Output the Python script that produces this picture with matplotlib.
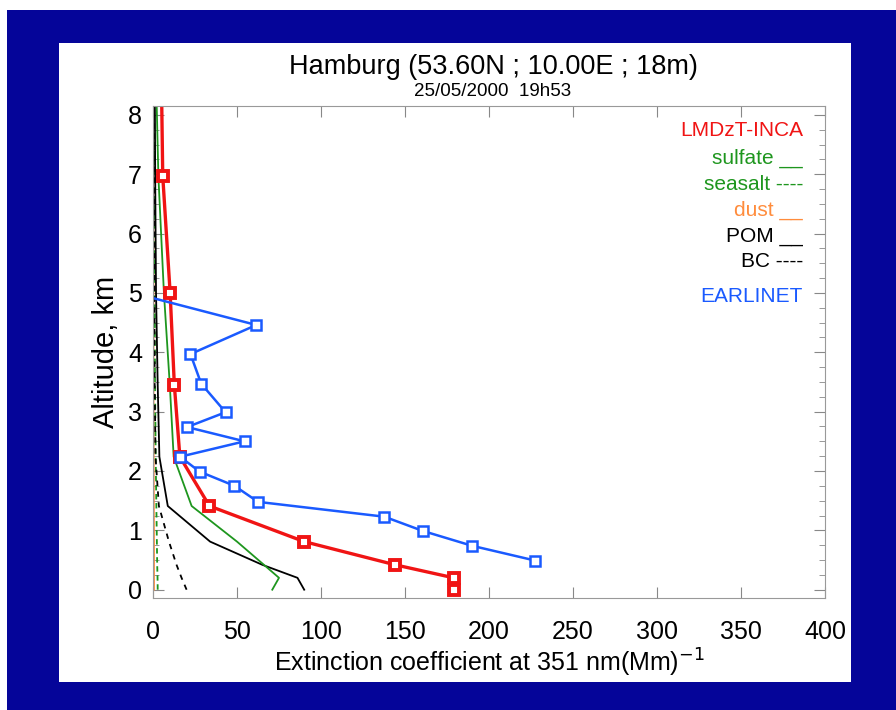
import numpy as np
import matplotlib
matplotlib.use('Agg')
import matplotlib.pyplot as plt
from matplotlib.ticker import MultipleLocator

plt.rcParams['font.family'] = ['Liberation Sans', 'DejaVu Sans']

# model levels (km) and LMDzT-INCA extinction (Mm-1)
alt_model = [0.0, 0.2, 0.42, 0.81, 1.41, 2.24, 3.45, 5.0, 6.97, 9.0]
ext_total = [179, 179, 144, 90, 33.6, 16, 12.7, 10.2, 5.8, 4.8]
ext_sulfate = [71, 75, 66, 50, 23, 12.3, 10, 6.5, 3.2, 1.5]
ext_seasalt = [2.8, 2.7, 2.5, 2.3, 2.0, 1.6, 1.2, 1.0, 0.8, 0.6]
ext_dust = [0.6, 0.6, 0.6, 0.6, 0.5, 0.4, 0.3, 0.3, 0.2, 0.2]
ext_pom = [90, 86, 65, 34, 8.8, 3.8, 2.8, 1.8, 1.3, 1.0]
ext_bc = [20, 17, 14, 9.5, 3.5, 1.5, 1.0, 0.8, 0.6, 0.5]

# EARLINET lidar profile
alt_lidar = [4.95, 4.46, 3.97, 3.47, 2.99, 2.74, 2.50, 2.24, 1.99, 1.75, 1.48, 1.23, 0.99, 0.74, 0.49]
ext_lidar = [-5, 61.5, 22.3, 28.7, 43.2, 20.3, 54.5, 16.1, 27.7, 48.5, 62.5, 137.7, 160.6, 189.9, 227.6]

red = '#f01414'
green = '#1e961e'
orange = '#ff8c3c'
blue = '#1a5aff'
navy = '#050599'

fig = plt.figure(figsize=(8.96, 7.10), dpi=100)
fig.patch.set_facecolor('white')
# dark blue frame with white panel
fig.patches.append(plt.Rectangle((7/896, 0), 1, 1 - 10/710, transform=fig.transFigure,
                                 facecolor=navy, edgecolor='none', zorder=-2))
fig.patches.append(plt.Rectangle((59/896, 1 - 682/710), (851-59)/896, (682-43)/710,
                                 transform=fig.transFigure, facecolor='white',
                                 edgecolor='none', zorder=-1))

ax = fig.add_axes([153/896, 1 - 598/710, (825-153)/896, (598-106)/710])
ax.plot(ext_dust, alt_model, color=orange, lw=1.3)
ax.plot(ext_seasalt, alt_model, color=green, lw=1.3, ls=(0, (3, 2)))
ax.plot(ext_bc, alt_model, color='black', lw=1.3, ls=(0, (3, 3)))
ax.plot(ext_pom, alt_model, color='black', lw=1.3)
ax.plot(ext_sulfate, alt_model, color=green, lw=1.3)
ax.plot(ext_total, alt_model, color=red, lw=2.4, marker='s', ms=7, mfc='white', mec=red, mew=2.8)
ax.plot(ext_lidar, alt_lidar, color=blue, lw=1.8, marker='s', ms=6.5, mfc='white', mec=blue, mew=1.8)

ax.set_xlim(0, 400)
ax.set_ylim(-0.14, 8.15)
ax.set_xticks(np.arange(0, 401, 50))
ax.set_yticks(np.arange(0, 9, 1))
ax.yaxis.set_minor_locator(MultipleLocator(0.25))
ax.tick_params(which='both', direction='in', top=True, right=True, color='#888888',
               labelsize=18)
ax.tick_params(which='major', length=8)
ax.tick_params(which='minor', length=4)
ax.tick_params(axis='x', pad=16)
ax.tick_params(axis='y', pad=8)
for s in ax.spines.values():
    s.set_color('#999999')
    s.set_linewidth(0.8)

ax.set_xlabel('Extinction coefficient at 351 nm(Mm)$^{-1}$', fontsize=18, labelpad=2)
ax.set_ylabel('Altitude, km', fontsize=21, labelpad=6)

fig.text(493/896, 1 - 67/710, 'Hamburg (53.60N ; 10.00E ; 18m)', ha='center', va='center', fontsize=19.5)
fig.text(493/896, 1 - 92/710, '25/05/2000  19h53', ha='center', va='center', fontsize=13.5)

legend_items = [('LMDzT-INCA', red, 130), ('sulfate __', green, 158), ('seasalt ----', green, 184),
                ('dust __', orange, 210), ('POM __', 'black', 237), ('BC ----', 'black', 262),
                ('EARLINET', blue, 297)]
for label, col, ypix in legend_items:
    fig.text(803/896, 1 - ypix/710, label, color=col, ha='right', va='center', fontsize=15)

fig.savefig('out.png', dpi=100)
